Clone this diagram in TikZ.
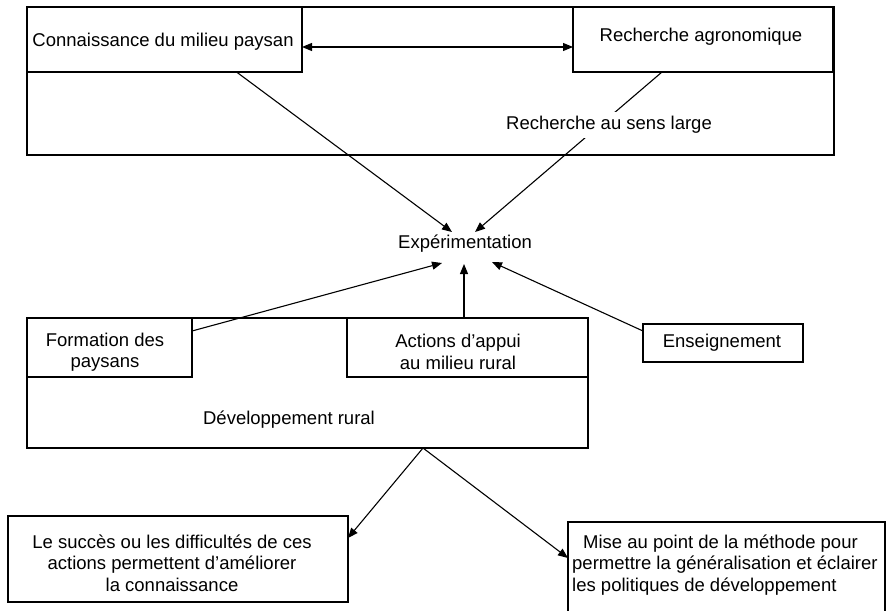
\documentclass[tikz,border=0pt]{standalone}
\usepackage{fontspec}
\setmainfont{Liberation Sans}
\usetikzlibrary{arrows.meta}
\begin{document}
\begin{tikzpicture}[x=1pt,y=-1pt,
  rbox/.style={draw, line width=1.2pt, anchor=north west, inner sep=0pt, outer sep=0pt},
  txt/.style={font=\fontsize{18.5}{21.5}\selectfont, inner sep=1pt, align=center},
  arr/.style={line width=1.1pt, -{Triangle[length=10pt,width=8pt]}},
  darr/.style={line width=1.1pt, {Triangle[length=10pt,width=8pt]}-{Triangle[length=10pt,width=8pt]}}]
\useasboundingbox (0,0) rectangle (888,610);
\fill[white] (0,0) rectangle (888,610);
% boxes
\node[rbox, minimum width=807pt, minimum height=148pt] (large) at (27,7) {};
\node[rbox, minimum width=275pt, minimum height=65pt] (conn) at (27,7) {};
\node[rbox, minimum width=260pt, minimum height=65pt] (agro) at (573,7) {};
\node[rbox, minimum width=561pt, minimum height=130pt] (dev) at (27,318) {};
\node[rbox, minimum width=165pt, minimum height=59pt] (form) at (27,318) {};
\node[rbox, minimum width=241pt, minimum height=59pt] (act) at (347,318) {};
\node[rbox, minimum width=160pt, minimum height=38pt] (ens) at (643,324) {};
\node[rbox, minimum width=340pt, minimum height=86pt] (succ) at (8,516) {};
\node[anchor=north west, inner sep=0pt, outer sep=0pt, minimum width=317pt, minimum height=95pt] (mise) at (568,522) {};
\draw[line width=1.2pt] (mise.south west) |- (mise.north east) -- (mise.south east);
% texts
\node[txt] (tconn) at (163,42) {Connaissance du milieu paysan};
\node[txt] (tagro) at (701,37) {Recherche agronomique};
\node[txt] (expe) at (465,244) {Expérimentation};
\node[txt] (tform) at (105,352) {Formation des\\paysans};
\node[txt] (tact) at (458,352) {Actions d’appui\\au milieu rural};
\node[txt] (tens) at (722,343) {Enseignement};
\node[txt] (tdev) at (289,420) {Développement rural};
\node[txt] (tsucc) at (172,563) {Le succès ou les difficultés de ces\\actions permettent d’améliorer\\la connaissance};
\node[txt, align=left, anchor=west] (tmise) at (571,565) {\hspace*{11pt}Mise au point de la méthode pour\\permettre la généralisation et éclairer\\les politiques de développement};
% connectors
\draw[darr] ([yshift=-7.5pt]conn.east) -- ([yshift=-7.5pt]agro.west);
\draw[arr] ([xshift=72pt]conn.south) -- ([xshift=-13pt,yshift=12pt]expe.center);
\draw[arr] ([xshift=-41pt]agro.south) -- ([xshift=10pt,yshift=12pt]expe.center);
\node[txt, fill=white, inner sep=4pt] (tlarge) at (609,125) {Recherche au sens large};
\draw[arr] ([yshift=-13pt]form.north east) -- ([xshift=-23pt,yshift=-19pt]expe.center);
\draw[arr] ([xshift=-3.5pt]act.north) -- ([xshift=-1pt,yshift=-20pt]expe.center);
\draw[arr] ([yshift=-7pt]ens.north west) -- ([xshift=27pt,yshift=-18pt]expe.center);
\draw[arr] ([xshift=115.5pt]dev.south) -- ([yshift=21pt]succ.east);
\draw[arr] ([xshift=115.5pt]dev.south) -- ([yshift=11.5pt]mise.west);
\end{tikzpicture}
\end{document}
